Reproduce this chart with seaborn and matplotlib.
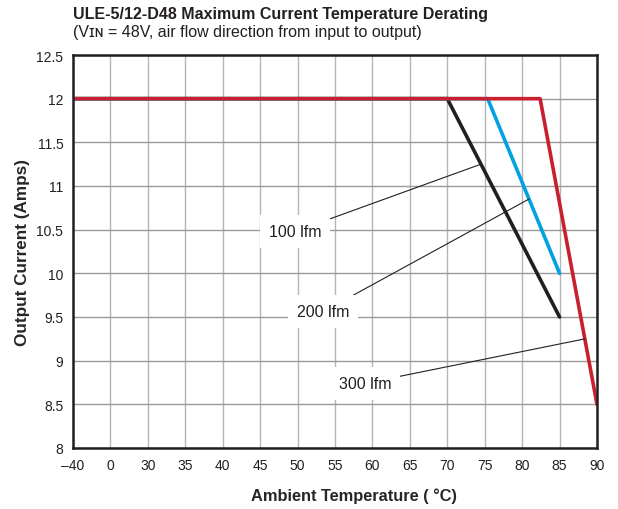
import numpy as np
import pandas as pd
import matplotlib
matplotlib.use("Agg")
import matplotlib.pyplot as plt
import seaborn as sns

# x axis is broken: -40, 0, then 30..90 in 5 degree steps, all evenly spaced
temp_ticks = [-40, 0, 30, 35, 40, 45, 50, 55, 60, 65, 70, 75, 80, 85, 90]
current_ticks = [8, 8.5, 9, 9.5, 10, 10.5, 11, 11.5, 12, 12.5]

# derating curves (ambient temp in C, output current in A)
temp_100 = [-40, 70, 85]
amps_100 = [12, 12, 9.5]
temp_200 = [-40, 75.4, 85]
amps_200 = [12, 12, 10]
temp_300 = [-40, 82.4, 90]
amps_300 = [12, 12, 8.5]

flows = ["100 lfm", "200 lfm", "300 lfm"]
colors = {"100 lfm": "#231f20", "200 lfm": "#00a3e0", "300 lfm": "#c8202f"}

# label placement and leader targets (temp, amps)
label_xy = {"100 lfm": (49.7, 10.48), "200 lfm": (53.4, 9.56), "300 lfm": (59.0, 8.74)}
target_xy = {"100 lfm": (74.5, 11.25), "200 lfm": (80.9, 10.85), "300 lfm": (88.4, 9.25)}

df = pd.concat([
    pd.DataFrame({"temp": temp_100, "amps": amps_100, "flow": "100 lfm"}),
    pd.DataFrame({"temp": temp_200, "amps": amps_200, "flow": "200 lfm"}),
    pd.DataFrame({"temp": temp_300, "amps": amps_300, "flow": "300 lfm"}),
])

_xp = [-40, 0, 30, 90]
_fp = [0, 1, 2, 14]


def fwd(t):
    return np.interp(t, _xp, _fp)


def inv(p):
    return np.interp(p, _fp, _xp)


sns.set_style("white")
plt.rcParams["font.family"] = ["Liberation Sans", "DejaVu Sans"]

fig = plt.figure(figsize=(6.18, 5.10), dpi=100)
ax = fig.add_axes([73 / 618, 1 - 449 / 510, 524 / 618, 393 / 510])
ax.set_xscale("function", functions=(fwd, inv))

# red last so its flat part sits on top
for flow in ["100 lfm", "200 lfm", "300 lfm"]:
    d = df[df["flow"] == flow]
    sns.lineplot(data=d, x="temp", y="amps", color=colors[flow], lw=2.6,
                 sort=False, estimator=None, ax=ax, zorder=3)

ax.set_xlim(-40, 90)
ax.set_ylim(8, 12.5)
ax.set_xticks(temp_ticks)
ax.set_xticklabels(["\u201340" if t < 0 else str(t) for t in temp_ticks])
ax.set_yticks(current_ticks)
ax.set_yticklabels([f"{v:g}" for v in current_ticks])
ax.xaxis.set_minor_locator(matplotlib.ticker.NullLocator())
ax.tick_params(axis="both", length=0, labelsize=10, colors="#231f20", pad=7)

ax.grid(axis="y", color="#9a9a9a", lw=1.0, zorder=1)
ax.grid(axis="x", color="#b5b5b5", lw=1.0, zorder=1)
for s in ax.spines.values():
    s.set_color("#231f20")
    s.set_linewidth(1.8)
    s.set_zorder(5)

ax.set_xlabel("Ambient Temperature ( \u00b0C)", fontsize=11.8, fontweight="bold")
ax.xaxis.set_label_coords(0.537, -0.10)
ax.set_ylabel("Output Current (Amps)", fontsize=12.3, fontweight="bold")
ax.yaxis.set_label_coords(-0.082, 0.5)

for flow in flows:
    ax.annotate(flow, xy=target_xy[flow], xytext=label_xy[flow],
                ha="center", va="center", fontsize=11.5, color="#231f20",
                bbox=dict(boxstyle="square,pad=0.55", fc="white", ec="none"),
                arrowprops=dict(arrowstyle="-", color="#231f20", lw=0.8,
                                shrinkA=0, shrinkB=0),
                zorder=6)

fig.text(73 / 618, 1 - 14 / 510, "ULE-5/12-D48 Maximum Current Temperature Derating",
         fontsize=11.5, fontweight="bold", color="#231f20", va="center", ha="left")
fig.text(73 / 618, 1 - 33 / 510, "(V\u026a\u0274 = 48V, air flow direction from input to output)",
         fontsize=11.5, color="#231f20", va="center", ha="left")

fig.savefig("out.png", dpi=100)
